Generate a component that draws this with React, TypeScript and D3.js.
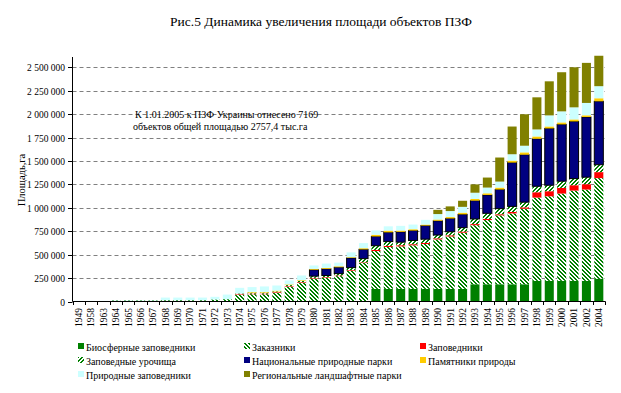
import React from 'react';
import * as d3 from 'd3';

// Рис.5 — площадь объектов ПЗФ по годам, га
const years = [
  '1949', '1958', '1963', '1964', '1965', '1966', '1967', '1968', '1969', '1970',
  '1971', '1972', '1973', '1974', '1975', '1976', '1977', '1978', '1979', '1980',
  '1981', '1982', '1983', '1984', '1985', '1986', '1987', '1988', '1989', '1990',
  '1991', '1992', '1993', '1994', '1995', '1996', '1997', '1998', '1999', '2000',
  '2001', '2002', '2004',
];

// thousand ha
const biosphere = [
  0, 0, 0, 0, 0, 0, 0, 0, 0, 0, 0, 0, 0, 0, 0, 0, 0, 0, 0, 0, 0, 0, 0, 0,
  135, 135, 135, 135, 135, 135, 135, 135, 184, 184, 184, 184, 184, 221, 221, 221, 221, 221, 243,
];
const zakazniki = [
  0, 0, 0, 12, 12, 12, 12, 14, 14, 14, 14, 22, 25, 75, 78, 78, 93, 160, 200, 246,
  253, 271, 330, 411, 404, 447, 454, 465, 479, 528, 560, 600, 631, 686, 736, 757,
  807, 889, 903, 932, 964, 975, 1075,
];
const zapovedniki = [
  0, 0, 0, 0, 0, 0, 0, 0, 0, 0, 0, 0, 0, 7, 7, 7, 7, 7, 7, 7, 7, 7, 7, 7,
  12, 12, 12, 12, 12, 12, 12, 12, 12, 12, 12, 15, 15, 57, 54, 61, 57, 57, 64,
];
const urochishcha = [
  0, 0, 0, 0, 0, 0, 0, 0, 0, 0, 0, 0, 0, 5, 10, 10, 8, 10, 14, 18, 18, 20, 25, 40,
  45, 46, 33, 40, 40, 35, 38, 42, 55, 60, 60, 60, 55, 64, 64, 71, 71, 75, 79,
];
const natParks = [
  0, 0, 0, 0, 0, 0, 0, 0, 0, 0, 0, 0, 0, 0, 0, 0, 0, 0, 0, 68, 71, 68, 103, 99,
  99, 99, 110, 106, 145, 152, 142, 142, 195, 196, 204, 468, 507, 507, 607, 607, 611, 643, 678,
];
const pamyatniki = [
  0, 0, 0, 0, 0, 0, 0, 0, 0, 0, 0, 0, 0, 0, 7, 8, 8, 6, 7, 10, 10, 10, 8, 12,
  18, 18, 14, 14, 11, 14, 15, 18, 18, 18, 21, 21, 25, 25, 21, 21, 21, 18, 32,
];
const prirodnye = [
  7, 7, 7, 3, 3, 3, 3, 28, 28, 28, 28, 28, 49, 59, 52, 58, 55, 42, 50, 36, 46, 39, 52, 55,
  46, 46, 50, 50, 50, 58, 64, 62, 67, 61, 64, 68, 71, 75, 118, 118, 129, 132, 129,
];
const regionalnye = [
  0, 0, 0, 0, 0, 0, 0, 0, 0, 0, 0, 0, 0, 0, 0, 0, 0, 0, 0, 0, 0, 0, 0, 0, 0, 0, 0, 0, 0,
  45, 50, 65, 89, 107, 257, 296, 336, 343, 364, 418, 428, 428, 325,
];

const seriesNames = [
  'Биосферные заповедники',
  'Заказники',
  'Заповедники',
  'Заповедные урочища',
  'Национальные природные парки',
  'Памятники природы',
  'Природные заповедники',
  'Региональные ландшафтные парки',
];
const seriesValues = [biosphere, zakazniki, zapovedniki, urochishcha, natParks, pamyatniki, prirodnye, regionalnye];
const seriesFills = ['#008000', 'url(#hatchDown)', '#FF0000', 'url(#hatchUp)', '#000080', '#FFCC00', '#CCFFFF', '#808000'];

const yTicks = [0, 250000, 500000, 750000, 1000000, 1250000, 1500000, 1750000, 2000000, 2250000, 2500000];

const W = 621;
const H = 393;
const FONT = '"Liberation Serif", "Times New Roman", serif';

const fmt = (v: number) => d3.format(',')(v).replace(/,/g, ' ');

// pixel hatch, 4x4, two green pixels per row shifted by one each row
function Hatch({ id, down }: { id: string; down: boolean }) {
  const rows = [0, 1, 2, 3];
  return (
    <pattern id={id} width="4" height="4" patternUnits="userSpaceOnUse">
      <rect width="4" height="4" fill="#fff" />
      {rows.map(r => {
        const c = down ? r : 3 - r;
        return (
          <g key={r} fill="#008000" shapeRendering="crispEdges">
            <rect x={c} y={r} width={2} height={1} />
            {c + 2 > 4 ? <rect x={0} y={r} width={c + 2 - 4} height={1} /> : null}
          </g>
        );
      })}
    </pattern>
  );
}

export default function App() {
  const x = d3.scaleBand<string>()
    .domain(years)
    .range([72.5, 605])
    .paddingInner(0.27)
    .paddingOuter(0.135);

  const y = d3.scaleLinear()
    .domain([0, 2600000])
    .range([301.5, 58.1]);

  const rows = years.map((yr, i) => {
    const r: any = { year: yr };
    seriesNames.forEach((n, k) => { r[n] = seriesValues[k][i] * 1000; });
    return r;
  });
  const stacked = d3.stack<any>().keys(seriesNames)(rows);

  const legendCols = [78, 244, 420];
  const legendRows = [347, 361, 375];

  return (
    <svg width={W} height={H} style={{ position: 'absolute', left: 0, top: 0, background: '#fff' }} fontFamily={FONT}>
      <defs>
        <Hatch id="hatchDown" down={true} />
        <Hatch id="hatchUp" down={false} />
      </defs>
      <rect width={W} height={H} fill="#fff" />

      <text x={321} y={26} textAnchor="middle" fontSize={13.5}>Рис.5 Динамика увеличения площади объектов ПЗФ</text>

      {/* grid */}
      {yTicks.filter(t => t > 0).map(t => (
        <line key={t} x1={72.5} x2={605} y1={Math.round(y(t)) + 0.5} y2={Math.round(y(t)) + 0.5}
          stroke="#808080" strokeDasharray="4,3" />
      ))}

      <text x={135} y={117.5} fontSize={10}>К 1.01.2005 к ПЗФ Украины отнесено 7169</text>
      <text x={133} y={130} fontSize={10}>объектов общей площадью  2757,4 тыс.га</text>

      {/* bars */}
      {stacked.map((s, k) => (
        <g key={s.key} fill={seriesFills[k]}>
          {s.map((d, i) => {
            const h = y(d[0]) - y(d[1]);
            if (h <= 0) return null;
            return (
              <rect key={i} x={x(years[i])} width={x.bandwidth()} y={y(d[1])} height={h}
                stroke={k === 4 ? '#000' : 'none'} strokeWidth={k === 4 ? 1 : 0} />
            );
          })}
        </g>
      ))}

      {/* y axis */}
      <line x1={72.5} x2={72.5} y1={57} y2={301.5} stroke="#000" />
      {yTicks.map(t => (
        <g key={t} transform={`translate(0,${Math.round(y(t)) + 0.5})`}>
          <line x1={68} x2={72.5} stroke="#000" />
          <text x={65} dy="0.35em" textAnchor="end" fontSize={9.5}>{fmt(t)}</text>
        </g>
      ))}
      <text transform="translate(25,180) rotate(-90)" textAnchor="middle" fontSize={10.5}>Площадь,га</text>

      {/* x axis */}
      <line x1={72.5} x2={605.5} y1={301.5} y2={301.5} stroke="#000" />
      {years.map((yr) => {
        const bx = x(yr)! - (x.step() - x.bandwidth()) / 2;
        return <line key={'t' + yr} x1={Math.round(bx) + 0.5} x2={Math.round(bx) + 0.5} y1={301.5} y2={305} stroke="#000" />;
      })}
      <line x1={605.5} x2={605.5} y1={301.5} y2={305} stroke="#000" />
      {years.map(yr => (
        <text key={yr} transform={`translate(${x(yr)! + x.bandwidth() / 2},308) rotate(-90)`}
          textAnchor="end" dy="0.35em" fontSize={9.5}>{yr}</text>
      ))}

      {/* legend */}
      {seriesNames.map((n, k) => {
        const cx = legendCols[k % 3];
        const cy = legendRows[Math.floor(k / 3)];
        return (
          <g key={n} transform={`translate(${cx},${cy})`}>
            <rect x={0} y={-4} width={6} height={6} fill={seriesFills[k]} />
            <text x={8} y={0} dy="0.35em" fontSize={10}>{n}</text>
          </g>
        );
      })}
    </svg>
  );
}
